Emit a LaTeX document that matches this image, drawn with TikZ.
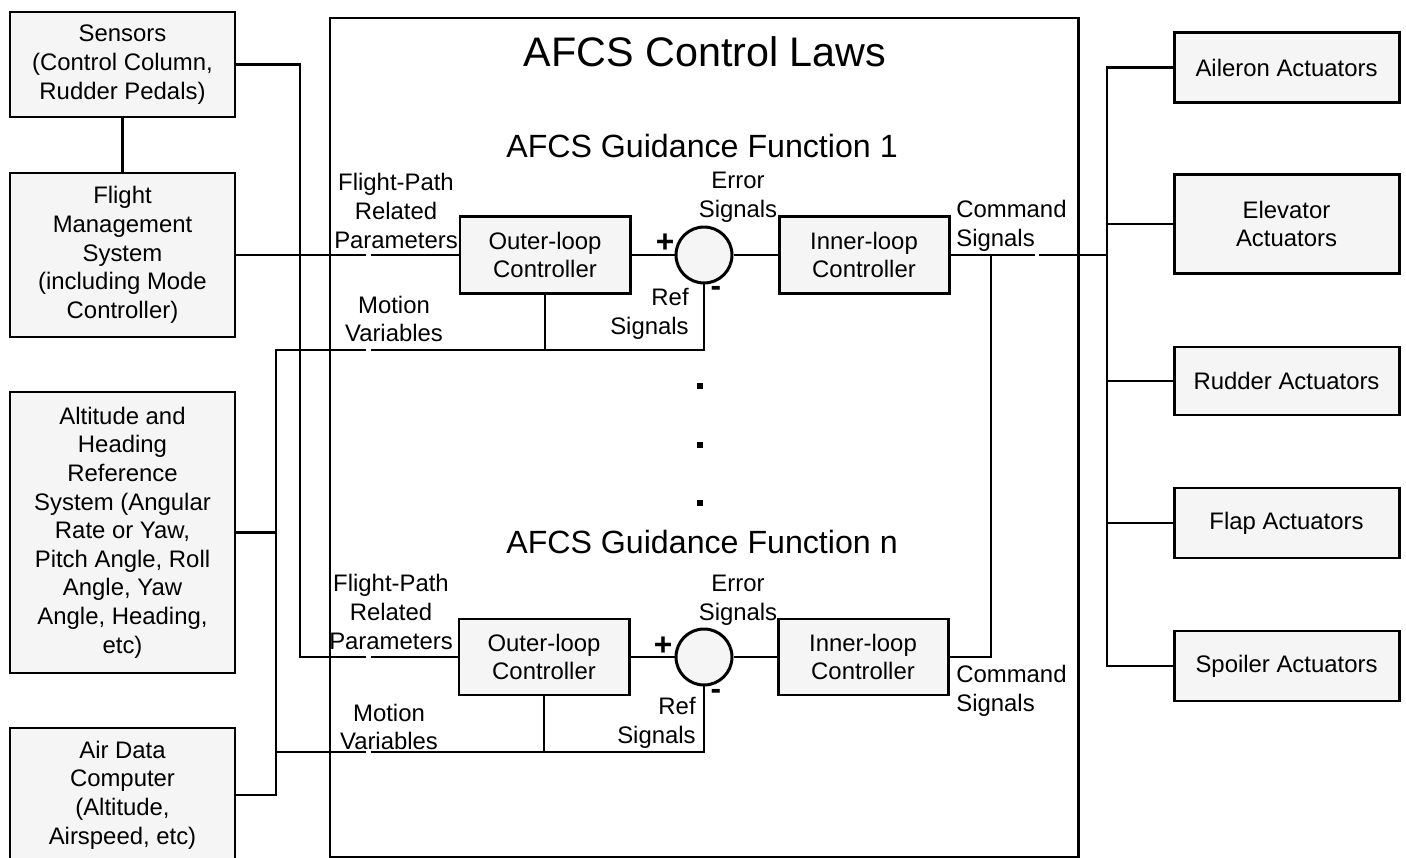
\documentclass[tikz,border=0pt]{standalone}
\usepackage{fontspec}
\setmainfont{Liberation Sans}
\begin{document}
\begin{tikzpicture}
% AFCS block diagram on the pixel grid of the drawing
\def\px{0.02cm}
\providecommand{\afcsBoxFill}{black!4}
\providecommand{\afcsBoxLineWidth}{1.7pt}
\providecommand{\afcsWireWidth}{1.6pt}
\providecommand{\afcsThinWireWidth}{1.2pt}
\providecommand{\afcsBodyFont}{\fontsize{13.6}{16.3}\selectfont}
\begin{scope}[x=\px, y=-\px,
  blockbox/.style={draw, fill=\afcsBoxFill, line width=\afcsBoxLineWidth, align=center, inner sep=2pt, font=\afcsBodyFont},
  boxsize/.style 2 args={minimum width=#1*\px, minimum height=#2*\px},
  lawsframe/.style={draw, line width=\afcsBoxLineWidth, inner sep=0pt},
  sumjunction/.style={circle, draw, fill=\afcsBoxFill, line width=\afcsBoxLineWidth, minimum size=56*\px, inner sep=0pt},
  sigtext/.style={align=center, font=\afcsBodyFont, inner sep=0pt},
  signtext/.style={font=\fontsize{18}{18}\selectfont\bfseries, inner sep=0pt},
  vdot/.style={fill=black, minimum size=6*\px, inner sep=0pt},
  wire/.style={line width=\afcsWireWidth},
  thinwire/.style={line width=\afcsThinWireWidth}]
  \useasboundingbox (0,0) rectangle (1406,858);
  % Control laws frame and titles
  \node[lawsframe, boxsize={748}{839}] (laws) at (704,437.5) {};
  \node[anchor=base, inner sep=0pt, font=\fontsize{23.5}{28}\selectfont] (title) at (705,67) {AFCS Control Laws};
  \node[anchor=base, inner sep=0pt, font=\fontsize{18.3}{22}\selectfont] (gf1) at (702,158) {AFCS Guidance Function 1};
  \node[anchor=base, inner sep=0pt, font=\fontsize{18.3}{22}\selectfont] (gfn) at (702,553) {AFCS Guidance Function n};
  \foreach \y [count=\i] in {386,445,503}
    \node[vdot] (dot\i) at (700,\y) {};
  % Sources
  \node[blockbox, boxsize={225}{105}] (sensors) at (122.5,64.5) {Sensors\\(Control Column,\\Rudder Pedals)};
  \node[blockbox, boxsize={225}{164}] (fms) at (122.5,255) {Flight\\Management\\System\\(including Mode\\Controller)};
  \node[blockbox, boxsize={225}{281}] (ahrs) at (122.5,532.5) {Altitude and\\Heading\\Reference\\System (Angular\\Rate or Yaw,\\Pitch Angle, Roll\\Angle, Yaw\\Angle, Heading,\\etc)};
  \node[blockbox, boxsize={225}{134}] (adc) at (122.5,795) {Air Data\\Computer\\(Altitude,\\Airspeed, etc)};
  % Guidance function 1
  \node[blockbox, boxsize={170}{77}] (outer1) at (545,255) {Outer-loop\\Controller};
  \node[sumjunction] (sum1) at (704,255) {};
  \node[blockbox, boxsize={170}{77}] (inner1) at (864,255) {Inner-loop\\Controller};
  % Guidance function n
  \node[blockbox, boxsize={170}{76}] (outern) at (544,657) {Outer-loop\\Controller};
  \node[sumjunction] (sumn) at (704,657) {};
  \node[blockbox, boxsize={170}{76}] (innern) at (863,657) {Inner-loop\\Controller};
  % Actuators
  \node[blockbox, boxsize={225}{70}] (aileron) at (1286.5,67.5) {Aileron Actuators};
  \node[blockbox, boxsize={225}{99}] (elevator) at (1286.5,224) {Elevator\\Actuators};
  \node[blockbox, boxsize={225}{68}] (rudder) at (1286.5,381) {Rudder Actuators};
  \node[blockbox, boxsize={225}{70}] (flap) at (1286.5,523) {Flap Actuators};
  \node[blockbox, boxsize={225}{70}] (spoiler) at (1286.5,666) {Spoiler Actuators};
  % Signal labels
  \node[sigtext] (fp1) at (396,211) {Flight-Path\\Related\\Parameters};
  \node[sigtext] (mv1) at (394,319) {Motion\\Variables};
  \node[sigtext] (err1) at (738,197) {Error\\Signals};
  \node[sigtext, anchor=east, align=right] (ref1) at (689,314) {Ref\\Signals};
  \node[sigtext, anchor=west, align=left] (cmd1) at (956,226) {Command\\Signals};
  \node[signtext] (plus1) at (665,243) {+};
  \node[signtext] (minus1) at (716,291) {-};
  \node[sigtext] (fpn) at (391,612) {Flight-Path\\Related\\Parameters};
  \node[sigtext] (mvn) at (389,727) {Motion\\Variables};
  \node[sigtext] (errn) at (738,600) {Error\\Signals};
  \node[sigtext, anchor=east, align=right] (refn) at (696,723) {Ref\\Signals};
  \node[sigtext, anchor=west, align=left] (cmdn) at (956,691) {Command\\Signals};
  \node[signtext] (plusn) at (663,646) {+};
  \node[signtext] (minusn) at (716,694) {-};
  % Bends and line hops
  \coordinate (fpturn) at (300,657);
  \coordinate (mvtop) at (276,350);
  \coordinate (mvbot) at (276,752);
  \coordinate (hopA1) at (366,255);
  \coordinate (hopA2) at (371,255);
  \coordinate (hopB1) at (366,657);
  \coordinate (hopB2) at (371,657);
  \coordinate (hopC1) at (366,350);
  \coordinate (hopC2) at (371,350);
  \coordinate (hopD1) at (366,752);
  \coordinate (hopD2) at (371,752);
  \coordinate (hopE1) at (1035,255);
  \coordinate (hopE2) at (1039,255);
  \coordinate (cmdjoin) at (991,255);
  \coordinate (busx) at (1107,0);
  % Inputs
  \draw[wire] (sensors) -- (fms);
  \draw[wire] (sensors.east) -| (fpturn) -- (hopB1);
  \draw[wire] (hopB2) -- (outern.west);
  \draw[wire] (fms.east) -- (hopA1);
  \draw[wire] (hopA2) -- (outer1.west);
  \draw[wire] (ahrs.east) -- (ahrs.east -| mvtop);
  \draw[wire] (hopC1) -- (mvtop) |- (adc.east);
  \draw[wire] (mvbot) -- (hopD1);
  \draw[thinwire] (hopC2) -| (sum1.south);
  \draw[thinwire] (hopD2) -| (sumn.south);
  \draw[thinwire] (outer1.south) -- (outer1.south |- hopC2);
  \draw[thinwire] (outern.south) -- (outern.south |- hopD2);
  % Loops
  \draw[thinwire] (outer1) -- (sum1) -- (inner1);
  \draw[thinwire] (outern) -- (sumn) -- (innern);
  % Command signals to actuators
  \draw[thinwire] (inner1.east) -- (hopE1);
  \draw[wire] (hopE2) -- (hopE2 -| busx);
  \draw[wire] (innern.east) -| (cmdjoin);
  \draw[wire] (aileron.west) -- (aileron.west -| busx) -- (spoiler.west -| busx) -- (spoiler.west);
  \foreach \act in {elevator,rudder,flap}
    \draw[wire] (\act.west) -- (\act.west -| busx);
\end{scope}
\end{tikzpicture}
\end{document}
